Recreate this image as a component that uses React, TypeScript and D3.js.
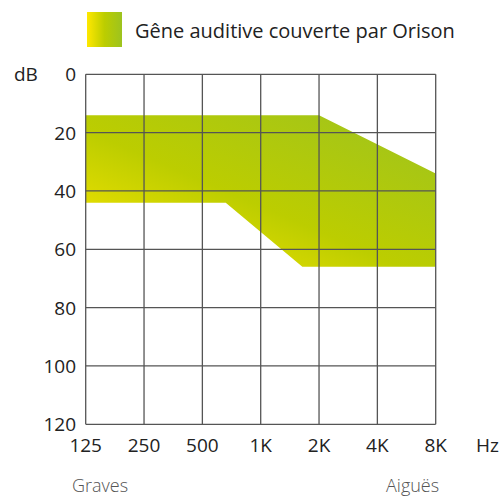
import * as d3 from "d3";

const freqTicks = [125, 250, 500, 1000, 2000, 4000, 8000];
const freqLabels = ["125", "250", "500", "1K", "2K", "4K", "8K"];
const dbTicks = [0, 20, 40, 60, 80, 100, 120];

// zone boundaries [Hz, dB]
const upperEdge: [number, number][] = [
  [125, 14],
  [2000, 14],
  [8000, 34],
];
const lowerEdge: [number, number][] = [
  [8000, 66],
  [1640, 66],
  [660, 44],
  [125, 44],
];

const legendLabel = "Gêne auditive couverte par Orison";
const FONT = "'Open Sans', 'Noto Sans', sans-serif";
const TEXT = "#222";
const GRID = "#555";

export default function App() {
  const left = 85.7;
  const right = 435.7;
  const top = 74.3;
  const bottom = 424.3;

  const x = d3.scaleLog().base(2).domain([125, 8000]).range([left, right]);
  const y = d3.scaleLinear().domain([0, 120]).range([top, bottom]);

  const line = d3
    .line<[number, number]>()
    .x((d) => x(d[0]))
    .y((d) => y(d[1]));
  const zone = line([...upperEdge, ...lowerEdge]) + "Z";

  return (
    <svg width={504} height={496} style={{ position: "absolute", left: 0, top: 0 }}>
      <defs>
        <linearGradient id="zoneGrad" x1="0" y1="1" x2="1" y2="0">
          <stop offset="0%" stopColor="#ffe800" />
          <stop offset="45%" stopColor="#bccd00" />
          <stop offset="100%" stopColor="#9dc31f" />
        </linearGradient>
        <linearGradient id="legGrad" x1="0" y1="0" x2="1" y2="0">
          <stop offset="0%" stopColor="#ffe800" />
          <stop offset="50%" stopColor="#bccd00" />
          <stop offset="100%" stopColor="#9dc31f" />
        </linearGradient>
      </defs>

      <rect x={87} y={12} width={35} height={35} fill="url(#legGrad)" />
      <text x={135} y={38} fontFamily={FONT} fontSize={20} fill={TEXT}>
        {legendLabel}
      </text>

      <path d={zone} fill="url(#zoneGrad)" />

      <g stroke={GRID} strokeWidth={1.3}>
        {dbTicks.map((t) => (
          <line key={"h" + t} x1={left} x2={right} y1={y(t)} y2={y(t)} />
        ))}
        {freqTicks.map((f) => (
          <line key={"v" + f} x1={x(f)} x2={x(f)} y1={top} y2={bottom} />
        ))}
      </g>

      <g fontFamily={FONT} fontSize={19} fill={TEXT}>
        <text x={14} y={top} dominantBaseline="central">dB</text>
        {dbTicks.map((t) => (
          <text key={t} x={76} y={y(t)} textAnchor="end" dominantBaseline="central">
            {t}
          </text>
        ))}
        {freqTicks.map((f, i) => (
          <text key={f} x={x(f)} y={445} textAnchor="middle" dominantBaseline="central">
            {freqLabels[i]}
          </text>
        ))}
        <text x={476} y={445} dominantBaseline="central">Hz</text>
      </g>
      <g fontFamily={FONT} fontSize={18} fill="#555" fontWeight={300}>
        <text x={72} y={492}>Graves</text>
        <text x={386} y={492}>Aiguës</text>
      </g>
    </svg>
  );
}
